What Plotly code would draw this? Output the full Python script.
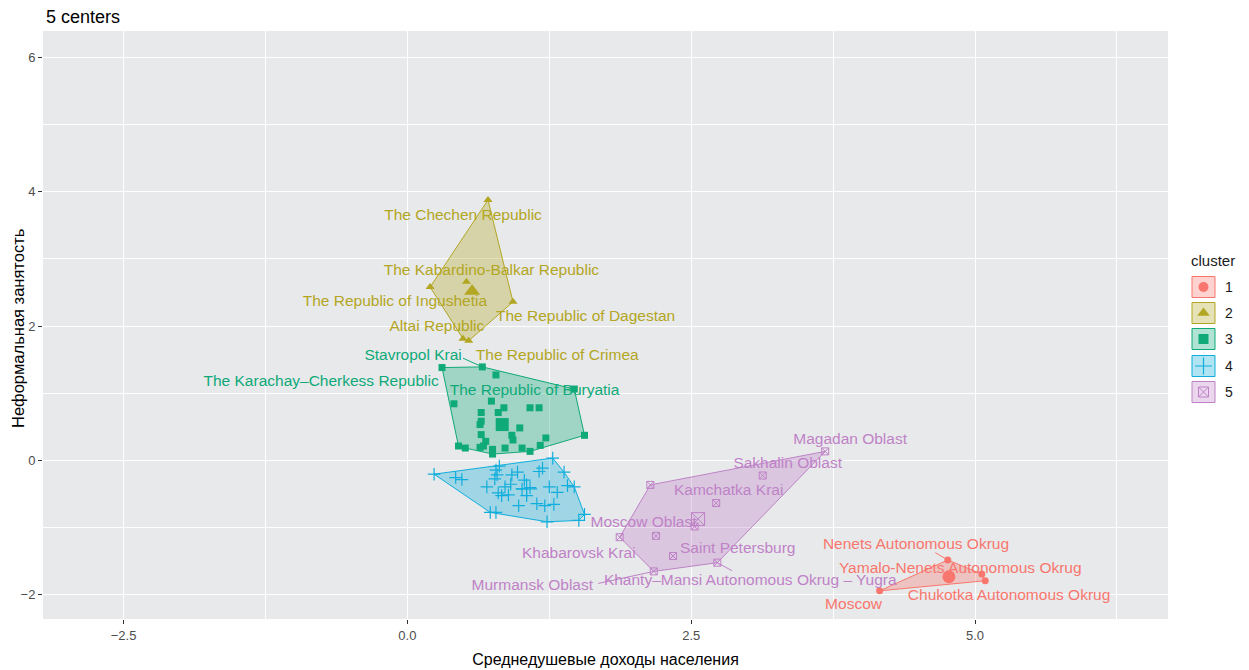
import plotly.graph_objects as go

# ---------------- data ----------------
cluster_ids = ["1", "2", "3", "4", "5"]
colors = ["#F8766D", "#B3A623", "#0FAA78", "#10AEDC", "#BF82C7"]
symbols = ["circle", "triangle-up", "square", "cross-thin", "square-x-open"]

c1_x = [4.76, 5.06, 5.09, 4.16]
c1_y = [-1.49, -1.70, -1.80, -1.95]

c2_x = [0.71, 0.20, 0.52, 0.93, 0.49, 0.54]
c2_y = [3.88, 2.58, 2.66, 2.36, 1.81, 1.78]

c3_x = [0.305, 0.66, 0.78, 1.47, 1.56, 0.41, 0.74, 0.65, 0.85, 0.80, 1.08, 1.16,
        0.64, 0.65, 0.99, 0.92, 0.93, 0.65, 0.69, 1.22, 0.45, 0.51, 0.64, 0.75,
        0.75, 0.86, 1.01, 1.08, 1.17, 0.67]
c3_y = [1.38, 1.39, 1.27, 1.06, 0.37, 0.84, 0.88, 0.71, 0.78, 0.71, 0.78, 0.78,
        0.53, 0.58, 0.48, 0.37, 0.30, 0.38, 0.28, 0.33, 0.21, 0.18, 0.19, 0.16,
        0.09, 0.18, 0.18, 0.13, 0.22, 0.21]

c4_x = [0.235, 0.425, 0.48, 0.81, 0.78, 0.79, 0.77, 0.70, 0.80, 0.83, 0.86, 0.91,
        0.92, 0.97, 0.89, 1.03, 1.01, 1.08, 1.05, 0.98, 1.16, 1.19, 1.28, 1.38,
        1.25, 1.32, 1.41, 1.47, 1.14, 1.21, 1.29, 0.73, 0.78, 1.23, 1.51, 1.56]
c4_y = [-0.21, -0.26, -0.29, -0.09, -0.15, -0.22, -0.28, -0.40, -0.49, -0.53, -0.40, -0.36,
        -0.22, -0.18, -0.52, -0.30, -0.43, -0.41, -0.53, -0.68, -0.17, -0.12, 0.03, -0.18,
        -0.40, -0.48, -0.38, -0.40, -0.65, -0.68, -0.66, -0.78, -0.78, -0.92, -0.90, -0.81]

c5_x = [2.14, 3.68, 3.13, 2.72, 2.53, 2.19, 1.87, 2.34, 2.17, 2.73]
c5_y = [-0.37, 0.13, -0.23, -0.64, -0.99, -1.13, -1.15, -1.43, -1.66, -1.53]

center_x = [4.77, 0.57, 0.835, 1.05, 2.56]
center_y = [-1.74, 2.52, 0.53, -0.43, -0.88]

# labels (text, x, y) per cluster
c1_labels = ["Nenets Autonomous Okrug", "Yamalo-Nenets Autonomous Okrug",
             "Chukotka Autonomous Okrug", "Moscow"]
c1_lx = [4.48, 4.87, 5.30, 3.93]
c1_ly = [-1.27, -1.63, -2.03, -2.16]

c2_labels = ["The Chechen Republic", "The Kabardino-Balkar Republic",
             "The Republic of Ingushetia", "The Republic of Dagestan",
             "Altai Republic", "The Republic of Crimea"]
c2_lx = [0.49, 0.74, -0.11, 1.57, 0.26, 1.32]
c2_ly = [3.64, 2.82, 2.36, 2.13, 1.99, 1.55]

c3_labels = ["Stavropol Krai", "The Karachay\u2013Cherkess Republic",
             "The Republic of Buryatia"]
c3_lx = [0.05, -0.76, 1.12]
c3_ly = [1.55, 1.16, 1.03]

c4_labels = []
c4_lx = []
c4_ly = []

c5_labels = ["Magadan Oblast", "Sakhalin Oblast", "Kamchatka Krai", "Moscow Oblast",
             "Saint Petersburg", "Khabarovsk Krai",
             "Khanty\u2013Mansi Autonomous Okrug \u2013 Yugra", "Murmansk Oblast"]
c5_lx = [3.90, 3.35, 2.83, 2.08, 2.91, 1.51, 3.02, 1.10]
c5_ly = [0.30, -0.06, -0.46, -0.94, -1.33, -1.40, -1.81, -1.88]

# leader segments: cluster index, label-end (x0,y0) -> point (x1,y1)
seg_cluster = [0, 2, 4, 4]
seg_x0 = [4.65, 0.49, 1.68, 2.86]
seg_y0 = [-1.38, 1.52, -1.84, -1.65]
seg_x1 = [4.76, 0.66, 2.17, 2.73]
seg_y1 = [-1.49, 1.39, -1.66, -1.53]

xs = [c1_x, c2_x, c3_x, c4_x, c5_x]
ys = [c1_y, c2_y, c3_y, c4_y, c5_y]
labels = [c1_labels, c2_labels, c3_labels, c4_labels, c5_labels]
lxs = [c1_lx, c2_lx, c3_lx, c4_lx, c5_lx]
lys = [c1_ly, c2_ly, c3_ly, c4_ly, c5_ly]


def hull(px, py):
    pts = sorted(set(zip(px, py)))
    if len(pts) < 3:
        return pts

    def cross(o, a, b):
        return (a[0] - o[0]) * (b[1] - o[1]) - (a[1] - o[1]) * (b[0] - o[0])

    lower, upper = [], []
    for p in pts:
        while len(lower) >= 2 and cross(lower[-2], lower[-1], p) <= 0:
            lower.pop()
        lower.append(p)
    for p in reversed(pts):
        while len(upper) >= 2 and cross(upper[-2], upper[-1], p) <= 0:
            upper.pop()
        upper.append(p)
    return lower[:-1] + upper[:-1]


def rgba(hexc, a):
    h = hexc.lstrip("#")
    r, g, b = int(h[0:2], 16), int(h[2:4], 16), int(h[4:6], 16)
    return f"rgba({r},{g},{b},{a})"


def marker_for(i, big=False):
    sym = symbols[i]
    if sym == "cross-thin":
        mk = dict(symbol=sym, size=9, color=colors[i], line=dict(color=colors[i], width=1.2))
    elif sym == "square-x-open":
        mk = dict(symbol=sym, size=7, color=colors[i], line=dict(color=colors[i], width=1))
    elif sym == "triangle-up":
        mk = dict(symbol=sym, size=8, color=colors[i])
    else:
        mk = dict(symbol=sym, size=7, color=colors[i])
    if big:
        mk["size"] = mk["size"] + 6
    return mk


FONT = "Liberation Sans, Arial, sans-serif"
W, H = 1249, 670
ML, MR, MT, MB = 43, 10, 31, 51
PANEL_RIGHT = 1168          # right edge of the main panel (px)
LEG_LEFT = 1175             # left edge of the legend area (px)
paper_w = W - ML - MR
paper_h = H - MT - MB
PANEL_BG = "#E8E9EB"

fig = go.Figure()

# panel background (drawn as a shape so the legend area stays white)
fig.add_shape(type="rect", xref="x domain", yref="y domain", x0=0, x1=1, y0=0, y1=1,
              fillcolor=PANEL_BG, line=dict(width=0), layer="below")

# hulls
for i, cid in enumerate(cluster_ids):
    h = hull(xs[i], ys[i])
    hx = [p[0] for p in h] + [h[0][0]]
    hy = [p[1] for p in h] + [h[0][1]]
    fig.add_trace(go.Scatter(
        x=hx, y=hy, mode="lines", fill="toself",
        fillcolor=rgba(colors[i], 0.33),
        line=dict(color=colors[i], width=1),
        name=cid, showlegend=False, hoverinfo="skip"))

# leader segments
for k in range(len(seg_cluster)):
    fig.add_trace(go.Scatter(
        x=[seg_x0[k], seg_x1[k]], y=[seg_y0[k], seg_y1[k]], mode="lines",
        line=dict(color=colors[seg_cluster[k]], width=1),
        showlegend=False, hoverinfo="skip"))

# points and centers
for i, cid in enumerate(cluster_ids):
    fig.add_trace(go.Scatter(x=xs[i], y=ys[i], mode="markers", marker=marker_for(i),
                             name=cid, showlegend=False))
    fig.add_trace(go.Scatter(x=[center_x[i]], y=[center_y[i]], mode="markers",
                             marker=marker_for(i, big=True), name=cid, showlegend=False))

# labels
for i, cid in enumerate(cluster_ids):
    if labels[i]:
        fig.add_trace(go.Scatter(
            x=lxs[i], y=lys[i], mode="text", text=labels[i],
            textposition="middle center",
            textfont=dict(family=FONT, size=15.5, color=colors[i]),
            showlegend=False, hoverinfo="skip"))

# ---------- ggplot-style legend (pixel-unit overlay axes) ----------
leg_row_y = [287, 313, 339, 366, 392]
box_x0, box_x1, box_h = 1192, 1215, 21
for i, cid in enumerate(cluster_ids):
    yc = leg_row_y[i]
    fig.add_shape(type="rect", xref="x2", yref="y2",
                  x0=box_x0, x1=box_x1, y0=yc - box_h / 2, y1=yc + box_h / 2,
                  fillcolor=rgba(colors[i], 0.33), line=dict(color=colors[i], width=1))
    mk = marker_for(i)
    mk["size"] = mk["size"] + 3
    fig.add_trace(go.Scatter(x=[(box_x0 + box_x1) / 2], y=[yc], mode="markers", marker=mk,
                             xaxis="x2", yaxis="y2", showlegend=False, hoverinfo="skip"))
    fig.add_annotation(x=1223, y=yc, xref="x2", yref="y2", text=cid, showarrow=False,
                       xanchor="left", yanchor="middle",
                       font=dict(family=FONT, size=14, color="#1A1A1A"))
fig.add_annotation(x=1189, y=260, xref="x2", yref="y2", text="cluster", showarrow=False,
                   xanchor="left", yanchor="middle",
                   font=dict(family=FONT, size=15, color="#1A1A1A"))

# y-axis title placed like ggplot's
fig.add_annotation(x=(18 - ML) / paper_w, y=(H - MB - 329) / paper_h, xref="paper", yref="paper",
                   text="Неформальная занятость", textangle=-90, showarrow=False,
                   xanchor="center", yanchor="middle",
                   font=dict(family=FONT, size=16.5, color="black"))

axis_common = dict(
    showgrid=True, gridcolor="white", gridwidth=1.2, zeroline=False, showline=False,
    ticks="outside", ticklen=4, tickcolor="#333333", automargin=False,
    tickfont=dict(family=FONT, size=13, color="#4D4D4D"),
)

fig.update_layout(
    width=W, height=H,
    margin=dict(l=ML, r=MR, t=MT, b=MB),
    paper_bgcolor="white", plot_bgcolor="white",
    title=dict(text="5 centers", x=46 / W, xref="container", xanchor="left",
               y=1 - 17 / H, yref="container", yanchor="middle",
               font=dict(family=FONT, size=18, color="black")),
    xaxis=dict(domain=[0, (PANEL_RIGHT - ML) / paper_w],
               range=[-3.21, 6.70], tick0=0, dtick=2.5, tickformat=".1f",
               minor=dict(dtick=1.25, tick0=0, showgrid=True, gridcolor="white", gridwidth=0.6),
               title=dict(text="Среднедушевые доходы населения",
                          font=dict(family=FONT, size=16, color="black"), standoff=12),
               **axis_common),
    yaxis=dict(range=[-2.37, 6.40], tick0=0, dtick=2,
               minor=dict(dtick=1, tick0=0, showgrid=True, gridcolor="white", gridwidth=0.6),
               **axis_common),
    xaxis2=dict(domain=[(LEG_LEFT - ML) / paper_w, 1], range=[LEG_LEFT, W - MR],
                visible=False, showgrid=False, anchor="y2", fixedrange=True),
    yaxis2=dict(domain=[0, 1], range=[H - MB, MT], visible=False, showgrid=False,
                anchor="x2", fixedrange=True),
    showlegend=False,
)

fig.write_html("out.html", config={"displayModeBar": False},
               post_script="document.body.style.margin='0';")
